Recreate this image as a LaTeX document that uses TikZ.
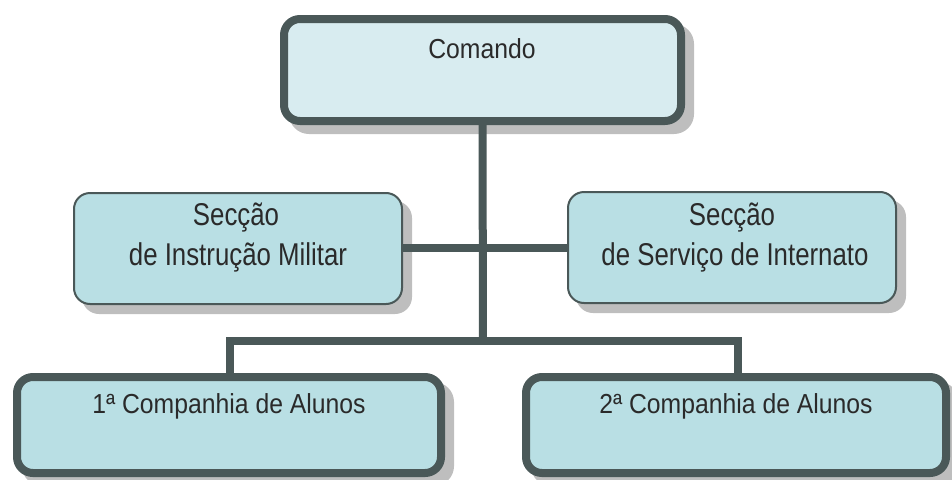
\documentclass[tikz,border=0pt]{standalone}
\usepackage{fontspec}
\newfontfamily\labA[FakeStretch=0.9]{Liberation Sans}
\newfontfamily\labB[FakeStretch=0.82]{Liberation Sans}
\definecolor{edge}{HTML}{4A5858}
\definecolor{filltop}{HTML}{D8ECF0}
\definecolor{fillbox}{HTML}{B9DFE4}
\definecolor{shadowc}{HTML}{BEBEBE}
\definecolor{txt}{HTML}{2A2A2A}
\tikzset{
  x=1pt, y=-1pt,
  shad/.style={preaction={draw=shadowc, fill=shadowc, transform canvas={shift={(9pt,-9pt)}}}},
  boxthick/.style={shad, draw=edge, line width=8pt, rounded corners=16pt, inner sep=0pt},
  boxthin/.style={shad, draw=edge, line width=2pt, rounded corners=16pt, inner sep=0pt, fill=fillbox},
  conn/.style={draw=edge, line width=8pt},
  lblA/.style={text=txt, font=\labA\fontsize{27.5}{33}\selectfont, inner sep=0pt, anchor=base},
  lblB/.style={text=txt, font=\labB\fontsize{31.5}{40}\selectfont, inner sep=0pt, anchor=base},
}
\begin{document}
\begin{tikzpicture}
\useasboundingbox (0,0) rectangle (952,479);
\coordinate (j) at (483,341);
\node[boxthick, fill=filltop, minimum width=397pt, minimum height=102pt] (cmd) at (482.5,70) {};
\node[boxthin, minimum width=328pt, minimum height=111pt] (s1) at (238,248.5) {};
\node[boxthin, minimum width=328pt, minimum height=111pt] (s2) at (732,247.5) {};
\node[boxthick, fill=fillbox, minimum width=424pt, minimum height=96pt] (c1) at (229,425) {};
\node[boxthick, fill=fillbox, minimum width=420pt, minimum height=96pt] (c2) at (736,425) {};
\draw[conn] (cmd.south) -- (j);
\draw[conn] (s1.east |- 0,248) -- (s2.west |- 0,248);
\draw[conn] ([xshift=1pt]c1.north) |- (j);
\draw[conn] (j) -| ([xshift=2pt]c2.north);
\node[lblA] (tcmd) at (482,58) {Comando};
\node[lblB] (ts1a) at (236,225) {Secção};
\node[lblB] (ts1b) at (238,265) {de Instrução Militar};
\node[lblB] (ts2a) at (732,225) {Secção};
\node[lblB] (ts2b) at (735,265) {de Serviço de Internato};
\node[lblA] (tc1) at (229,413) {1ª Companhia de Alunos};
\node[lblA] (tc2) at (736,413) {2ª Companhia de Alunos};
\end{tikzpicture}
\end{document}
